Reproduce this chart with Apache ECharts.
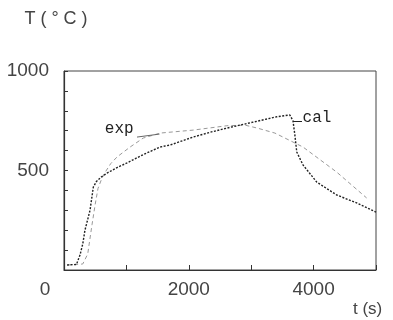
<!DOCTYPE html>
<html>
<head>
<meta charset="utf-8">
<script src="https://cdn.jsdelivr.net/npm/echarts@6/dist/echarts.min.js"></script>
<style>
  html, body { margin: 0; padding: 0; background: #fff; }
  #chart { width: 393px; height: 320px; }
</style>
</head>
<body>
<div id="chart"></div>
<script>
// calculated curve (s, °C)
const calTime = [50, 200, 256, 300, 336, 417, 470, 520, 600, 690, 850, 1010, 1270, 1540, 1700, 2070, 2340, 2610, 3030, 3410, 3620, 3670, 3700, 3730, 3830, 4050, 4370, 4690, 5000];
const calTemp = [25, 28, 75, 130, 200, 300, 417, 445, 468, 487, 515, 538, 580, 618, 628, 668, 692, 713, 743, 770, 779, 749, 678, 593, 528, 442, 377, 337, 291];
// measured curve
const expTime = [50, 300, 380, 450, 500, 545, 600, 657, 750, 850, 1060, 1270, 1540, 2070, 2610, 2900, 3100, 3380, 3830, 4370, 4850];
const expTemp = [25, 30, 80, 230, 330, 410, 455, 490, 535, 568, 618, 663, 688, 703, 725, 728, 713, 688, 618, 492, 362];

const xTickLabels = [0, 2000, 4000];
const yTickLabels = [500, 1000];

const zip = (a, b) => a.map((v, i) => [v, b[i]]);
const labelFont = "'Liberation Sans', Arial, sans-serif";
const monoFont = "'Liberation Mono', 'Courier New', monospace";

const chart = echarts.init(document.getElementById("chart"));

chart.setOption({
  animation: false,
  backgroundColor: "#fff",
  grid: {
    left: 64, right: 17, top: 71, bottom: 50,
    outerBoundsMode: "none",
    containLabel: false,
    show: true, borderColor: "#444", borderWidth: 1,
  },
  xAxis: {
    type: "value",
    min: 0, max: 5000, interval: 1000,
    name: "t (s)",
    nameLocation: "end",
    nameGap: -23,
    nameTextStyle: {
      color: "#444", fontFamily: labelFont, fontSize: 17,
      align: "left", verticalAlign: "top", lineHeight: 78,
    },
    axisLine: { lineStyle: { color: "#333", width: 1 } },
    axisTick: { inside: true, length: 5, lineStyle: { color: "#333" } },
    splitLine: { show: false },
    axisLabel: {
      margin: 10,
      color: "#444",
      fontFamily: labelFont,
      fontSize: 19,
      formatter: (v) => {
        if (!xTickLabels.includes(v)) return "";
        return v === 0 ? "{o|0}" : String(v);
      },
      rich: {
        o: { fontFamily: labelFont, fontSize: 19, color: "#444", padding: [0, 38, 0, 0] },
      },
    },
  },
  yAxis: {
    type: "value",
    min: 0, max: 1000, interval: 100,
    name: "T ( ° C )",
    nameLocation: "end",
    nameGap: 43,
    nameTextStyle: {
      color: "#444", fontFamily: labelFont, fontSize: 18,
      padding: [0, 16, 0, 0],
    },
    axisLine: { show: true, lineStyle: { color: "#333", width: 1.2 } },
    axisTick: { show: true, inside: true, length: 4, lineStyle: { color: "#333" } },
    splitLine: { show: false },
    axisLabel: {
      margin: 15,
      color: "#444",
      fontFamily: labelFont,
      fontSize: 19,
      formatter: (v) => (yTickLabels.includes(v) ? String(v) : ""),
    },
  },
  series: [
    {
      name: "exp",
      type: "line",
      data: zip(expTime, expTemp),
      showSymbol: false,
      lineStyle: { color: "#999", width: 1, type: [4, 3] },
      markLine: {
        silent: true,
        symbol: "none",
        label: { show: false },
        lineStyle: { color: "#666", width: 1, type: "solid" },
        data: [[{ coord: [1170, 668] }, { coord: [1530, 683] }]],
      },
      markPoint: {
        silent: true,
        symbol: "circle",
        symbolSize: 1,
        itemStyle: { color: "rgba(0,0,0,0)" },
        label: {
          show: true, position: "inside", formatter: "exp",
          color: "#222", fontFamily: monoFont, fontSize: 16,
        },
        data: [{ coord: [885, 712] }],
      },
    },
    {
      name: "cal",
      type: "line",
      data: zip(calTime, calTemp),
      showSymbol: false,
      lineStyle: { color: "#222", width: 1.4, type: [2, 1.5] },
      markLine: {
        silent: true,
        symbol: "none",
        label: { show: false },
        lineStyle: { color: "#222", width: 1, type: "solid" },
        data: [[{ coord: [3670, 749] }, { coord: [3814, 749] }]],
      },
      markPoint: {
        silent: true,
        symbol: "circle",
        symbolSize: 1,
        itemStyle: { color: "rgba(0,0,0,0)" },
        label: {
          show: true, position: "inside", formatter: "cal",
          color: "#222", fontFamily: monoFont, fontSize: 16,
        },
        data: [{ coord: [4054, 767] }],
      },
    },
  ],
});
</script>
</body>
</html>
